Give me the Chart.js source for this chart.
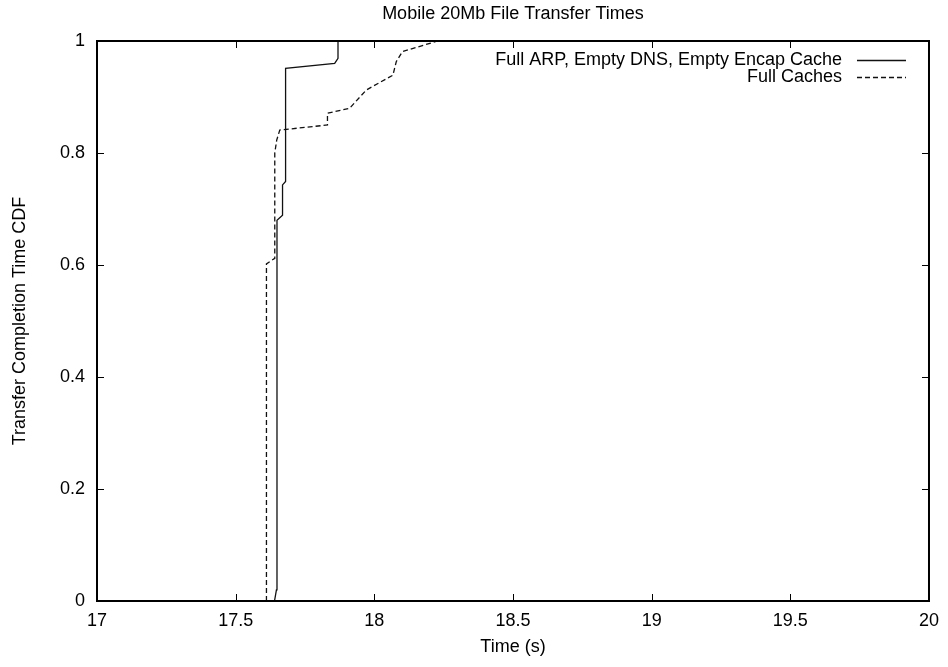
<!DOCTYPE html>
<html>
<head>
<meta charset="utf-8">
<script src="https://cdn.jsdelivr.net/npm/chart.js@4/dist/chart.umd.min.js"></script>
<style>
  html, body { margin: 0; padding: 0; background: #fff; }
  #wrap { width: 948px; height: 667px; }
</style>
</head>
<body>
<div id="wrap"><canvas id="c" width="948" height="667"></canvas></div>
<script>
// Tick positions
const xTickValues = [17, 17.5, 18, 18.5, 19, 19.5, 20];
const yTickValues = [0, 0.2, 0.4, 0.6, 0.8, 1];

// Series labels
const seriesLabels = ['Full ARP, Empty DNS, Empty Encap Cache', 'Full Caches'];

// Full ARP, Empty DNS, Empty Encap Cache: completion time (s) and CDF
const arpTimes = [17.640, 17.647, 17.649, 17.669, 17.669, 17.680, 17.680, 17.857, 17.869, 17.869];
const arpCdf   = [0.000, 0.020, 0.680, 0.689, 0.743, 0.749, 0.951, 0.960, 0.969, 1.000];

// Full Caches: completion time (s) and CDF
const fullTimes = [17.611, 17.611, 17.641, 17.641, 17.648, 17.659, 17.831, 17.831, 17.911, 17.971, 18.067, 18.079, 18.101, 18.228];
const fullCdf   = [0.000, 0.602, 0.612, 0.800, 0.823, 0.841, 0.850, 0.871, 0.880, 0.9125, 0.939, 0.963, 0.981, 1.000];

const toPoints = (xs, ys) => xs.map((x, i) => ({ x: x, y: ys[i] }));

const FONT = 'Liberation Sans, Arial, Helvetica, sans-serif';
const FS = 18;

// Frame, inward ticks on all four sides, and key in the top-right corner
const framePlugin = {
  id: 'frame',
  afterDatasetsDraw(chart) {
    const { ctx, chartArea: a, scales } = chart;
    ctx.save();
    ctx.strokeStyle = '#000';
    ctx.lineWidth = 1;
    const tl = 7;
    xTickValues.forEach(v => {
      const px = Math.round(scales.x.getPixelForValue(v)) + 0.5;
      ctx.beginPath();
      ctx.moveTo(px, a.bottom); ctx.lineTo(px, a.bottom - tl);
      ctx.moveTo(px, a.top); ctx.lineTo(px, a.top + tl);
      ctx.stroke();
    });
    yTickValues.forEach(v => {
      const py = Math.round(scales.y.getPixelForValue(v)) + 0.5;
      ctx.beginPath();
      ctx.moveTo(a.left, py); ctx.lineTo(a.left + tl, py);
      ctx.moveTo(a.right, py); ctx.lineTo(a.right - tl, py);
      ctx.stroke();
    });
    ctx.lineWidth = 2;
    ctx.strokeRect(a.left, a.top, a.right - a.left, a.bottom - a.top);

    // key
    ctx.font = FS + 'px ' + FONT;
    ctx.textAlign = 'right';
    ctx.textBaseline = 'middle';
    ctx.fillStyle = '#000';
    chart.data.datasets.forEach((ds, i) => {
      const y = a.top + 19 + i * 17;
      ctx.fillText(ds.label, a.right - 87, y);
      ctx.beginPath();
      ctx.lineWidth = ds.borderWidth;
      ctx.strokeStyle = ds.borderColor;
      ctx.setLineDash(ds.borderDash || []);
      ctx.moveTo(a.right - 72, y + 0.5);
      ctx.lineTo(a.right - 23, y + 0.5);
      ctx.stroke();
      ctx.setLineDash([]);
    });
    ctx.restore();
  }
};

new Chart(document.getElementById('c'), {
  type: 'line',
  data: {
    datasets: [
      {
        label: seriesLabels[0],
        data: toPoints(arpTimes, arpCdf),
        borderColor: '#111',
        borderWidth: 1.3,
        pointRadius: 0,
        tension: 0,
        fill: false
      },
      {
        label: seriesLabels[1],
        data: toPoints(fullTimes, fullCdf),
        borderColor: '#111',
        borderWidth: 1.3,
        borderDash: [5, 3],
        pointRadius: 0,
        tension: 0,
        fill: false
      }
    ]
  },
  options: {
    responsive: false,
    animation: false,
    devicePixelRatio: 1,
    layout: { padding: { left: 0, top: 0, right: 18, bottom: 0 } },
    plugins: {
      legend: { display: false },
      tooltip: { enabled: false },
      title: {
        display: true,
        text: 'Mobile 20Mb File Transfer Times',
        fullSize: false,
        color: '#000',
        font: { family: FONT, size: FS, weight: 'normal', lineHeight: 1.2 },
        padding: { top: 3, bottom: 16.4 }
      }
    },
    scales: {
      x: {
        type: 'linear',
        min: 17,
        max: 20,
        afterFit(scale) { scale.height = 66; },
        afterBuildTicks(scale) { scale.ticks = xTickValues.map(v => ({ value: v })); },
        grid: { display: false, drawTicks: false },
        border: { display: false },
        ticks: {
          color: '#000',
          font: { family: FONT, size: FS },
          padding: 9,
          maxRotation: 0,
          autoSkip: false,
          callback: v => String(Number(v.toFixed(1)))
        },
        title: {
          display: true,
          text: 'Time (s)',
          color: '#000',
          font: { family: FONT, size: FS, lineHeight: 1.2 },
          padding: { top: 0, bottom: 9 }
        }
      },
      y: {
        type: 'linear',
        min: 0,
        max: 1,
        afterFit(scale) { scale.width = 97; },
        afterBuildTicks(scale) { scale.ticks = yTickValues.map(v => ({ value: v })); },
        grid: { display: false, drawTicks: false },
        border: { display: false },
        ticks: {
          color: '#000',
          font: { family: FONT, size: FS },
          padding: 12,
          autoSkip: false,
          callback: v => String(Number(v.toFixed(1)))
        },
        title: {
          display: true,
          text: 'Transfer Completion Time CDF',
          color: '#000',
          font: { family: FONT, size: FS, lineHeight: 1.2 },
          padding: { top: 9, bottom: 0 }
        }
      }
    }
  },
  plugins: [framePlugin]
});
</script>
</body>
</html>
